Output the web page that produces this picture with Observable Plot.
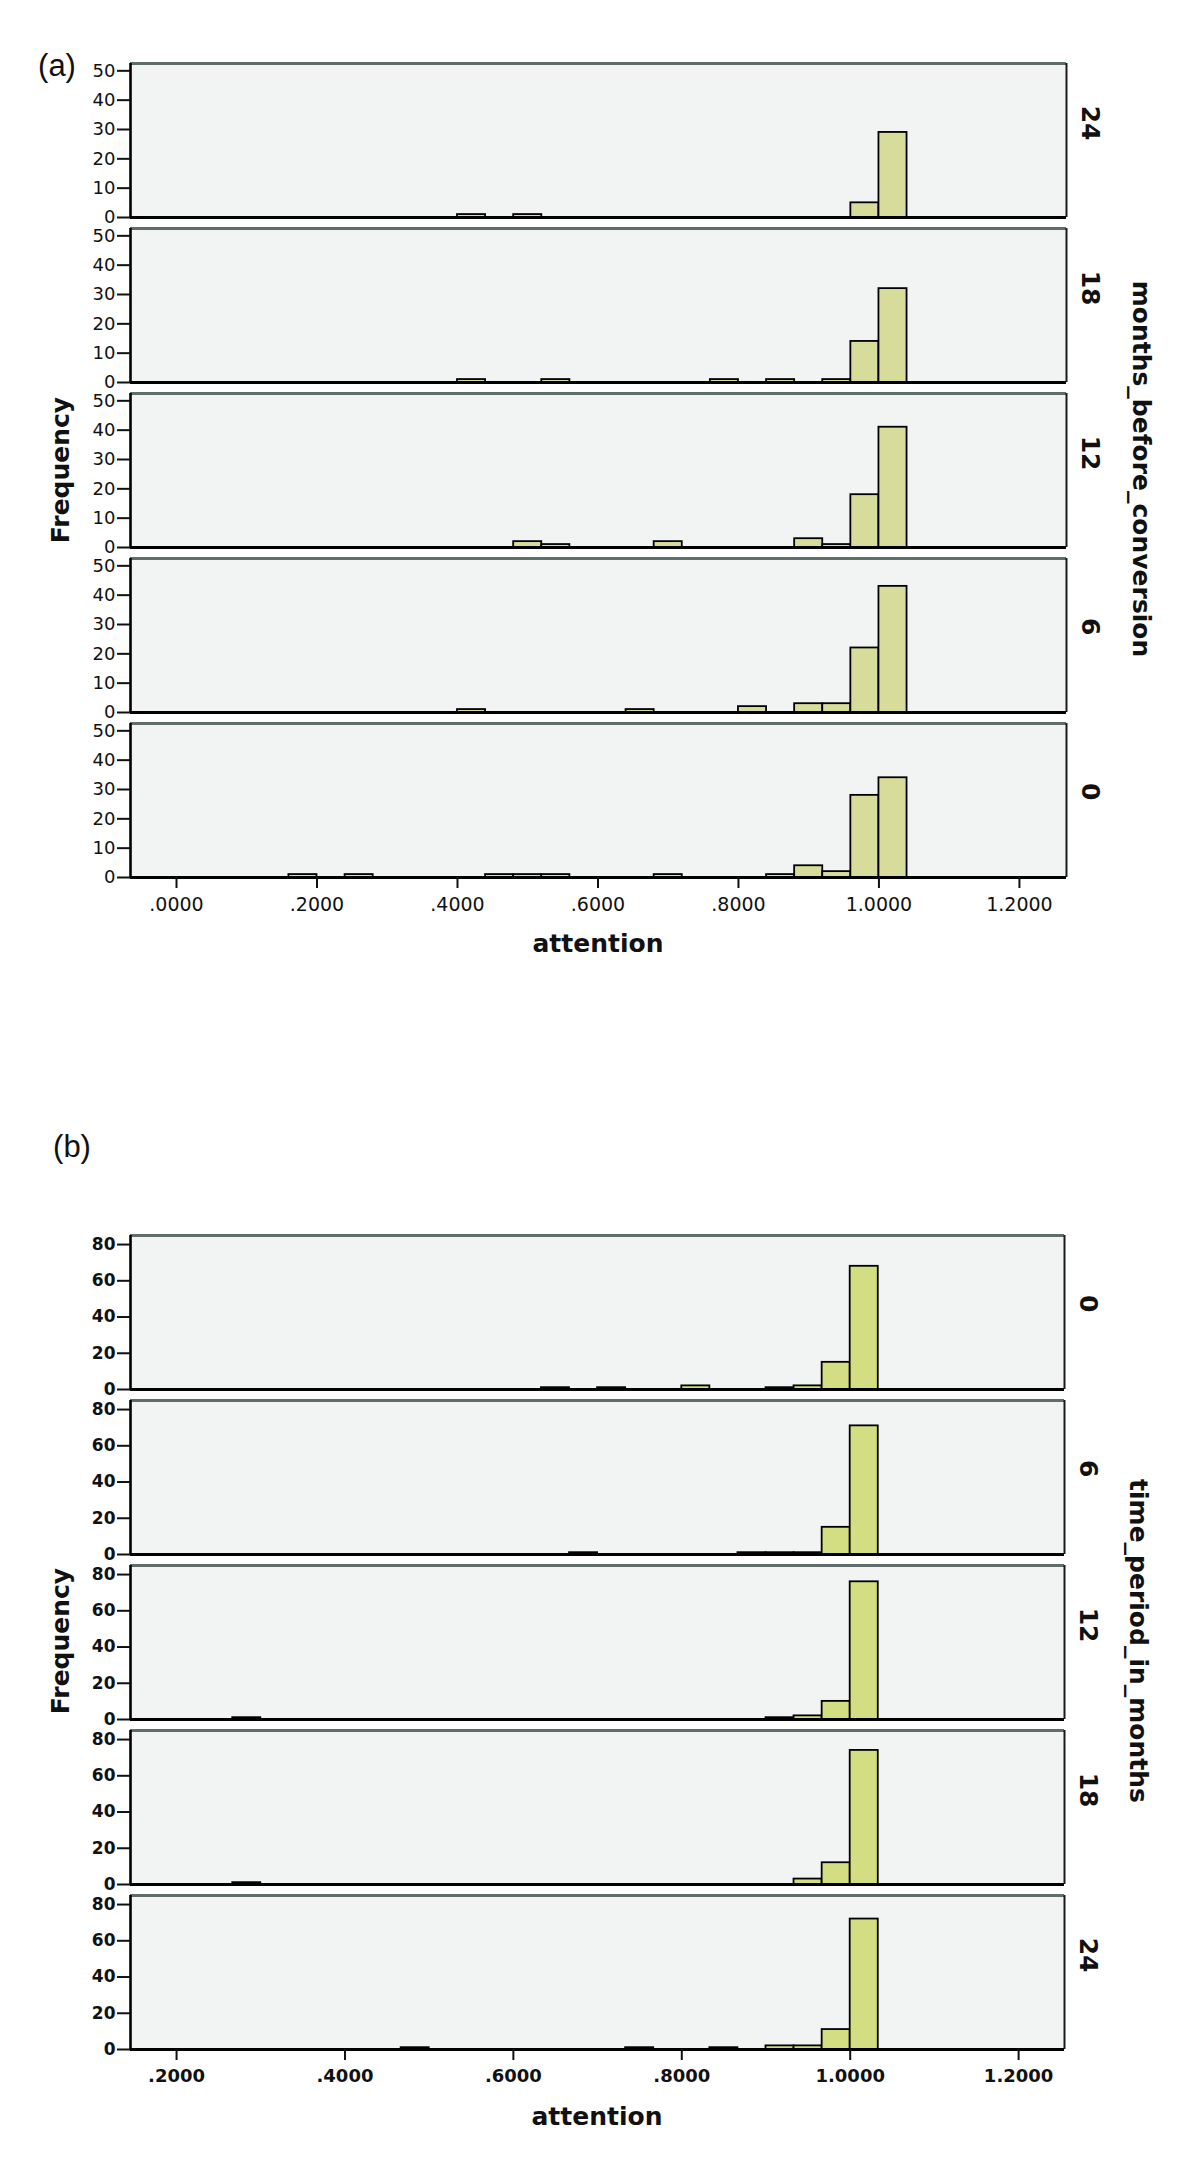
<!DOCTYPE html>
<html>
<head>
<meta charset="utf-8">
<script src="https://cdn.jsdelivr.net/npm/d3@7"></script>
<script src="https://cdn.jsdelivr.net/npm/@observablehq/plot@0.6"></script>
<style>
  body { margin: 0; background: #fff; }
  #wrap { position: relative; width: 1200px; height: 2175px; overflow: hidden; background: #fff; }
  .abs { position: absolute; white-space: nowrap; line-height: 1; }
  .plabel { font-family: "Liberation Sans", Arial, sans-serif; font-size: 31px; color: #111; transform: translate(-50%, -50%); }
  .title { font-family: "DejaVu Sans", sans-serif; font-weight: bold; font-size: 25px; color: #111; }
  .c { transform: translate(-50%, -50%); }
  .up { transform: translate(-50%, -50%) rotate(-90deg); }
  .down { transform: translate(-50%, -50%) rotate(90deg); }
</style>
</head>
<body>
<div id="wrap"></div>
<script>
// ---------- Panel (a): attention by months_before_conversion ----------
const aGroups = ["24", "18", "12", "6", "0"];
const aBinWidth = 0.04;
const aBins = [0.16, 0.20, 0.24, 0.28, 0.32, 0.36, 0.40, 0.44, 0.48, 0.52, 0.56,
               0.60, 0.64, 0.68, 0.72, 0.76, 0.80, 0.84, 0.88, 0.92, 0.96, 1.00];
const aCounts24 = [0,0,0,0,0,0,1,0,1,0,0,0,0,0,0,0,0,0,0,0,5,29];
const aCounts18 = [0,0,0,0,0,0,1,0,0,1,0,0,0,0,0,1,0,1,0,1,14,32];
const aCounts12 = [0,0,0,0,0,0,0,0,2,1,0,0,0,2,0,0,0,0,3,1,18,41];
const aCounts6  = [0,0,0,0,0,0,1,0,0,0,0,0,1,0,0,0,2,0,3,3,22,43];
const aCounts0  = [1,0,1,0,0,0,0,1,1,1,0,0,0,1,0,0,0,1,4,2,28,34];
const aXTicks = [0, 0.2, 0.4, 0.6, 0.8, 1.0, 1.2];
const aYTicks = [0, 10, 20, 30, 40, 50];

// ---------- Panel (b): attention by time_period_in_months ----------
const bGroups = ["0", "6", "12", "18", "24"];
const bBinWidth = 1 / 30;
const bBins = [0.2667, 0.3000, 0.3333, 0.3667, 0.4000, 0.4333, 0.4667, 0.5000, 0.5333,
               0.5667, 0.6000, 0.6333, 0.6667, 0.7000, 0.7333, 0.7667, 0.8000, 0.8333,
               0.8667, 0.9000, 0.9333, 0.9667, 1.0000];
const bCounts0  = [0,0,0,0,0,0,0,0,0,0,0,1,0,1,0,0,2,0,0,1,2,15,68];
const bCounts6  = [0,0,0,0,0,0,0,0,0,0,0,0,1,0,0,0,0,0,1,1,1,15,71];
const bCounts12 = [1,0,0,0,0,0,0,0,0,0,0,0,0,0,0,0,0,0,0,1,2,10,76];
const bCounts18 = [1,0,0,0,0,0,0,0,0,0,0,0,0,0,0,0,0,0,0,0,3,12,74];
const bCounts24 = [0,0,0,0,0,0,1,0,0,0,0,0,0,0,1,0,0,1,0,2,2,11,72];
const bXTicks = [0.2, 0.4, 0.6, 0.8, 1.0, 1.2];
const bYTicks = [0, 20, 40, 60, 80];

function buildRows(groups, bins, countLists, binW) {
  const rows = [];
  groups.forEach((g, gi) => {
    bins.forEach((b, i) => {
      const n = countLists[gi][i];
      if (n > 0) rows.push({g, x1: b, x2: b + binW, n});
    });
  });
  return rows;
}

const fmt = d => d.toFixed(4).replace(/^0/, "");

function histogram(o) {
  const rows = buildRows(o.groups, o.bins, o.counts, o.binW);
  return Plot.plot({
    width: 1200,
    height: o.height,
    marginLeft: 130,
    marginRight: o.marginRight,
    marginTop: o.marginTop,
    marginBottom: o.marginBottom,
    style: {fontFamily: o.font, fontSize: "18px", color: "#111", background: "transparent", overflow: "visible"},
    x: {domain: o.xDomain},
    y: {domain: o.yDomain},
    fy: {domain: o.groups, paddingInner: o.fyPad, paddingOuter: 0, axis: null, label: null},
    marks: [
      Plot.frame({fill: "#f2f4f4", stroke: null}),
      Plot.rect(rows, {fy: "g", x1: "x1", x2: "x2", y1: 0, y2: "n",
                       fill: o.fill, stroke: "#000", strokeWidth: 1.8}),
      Plot.ruleY([o.yDomain[1]], {stroke: "#5f6e6b", strokeWidth: 2.8}),
      Plot.ruleX([o.xDomain[1]], {stroke: "#1a1a1a", strokeWidth: 2}),
      Plot.ruleX([o.xDomain[0]], {stroke: "#000", strokeWidth: 2.6}),
      Plot.ruleY([0], {stroke: "#000", strokeWidth: 2.8}),
      Plot.axisY({ticks: o.yTicks, tickSize: 13, tickPadding: 2, label: null,
                  strokeWidth: 2, fontSize: o.tickFontSize, fontWeight: o.tickWeight}),
      Plot.axisX({ticks: o.xTicks, tickFormat: fmt, tickSize: 11, tickPadding: 9, label: null,
                  strokeWidth: 2, fontSize: o.tickFontSize + 1, fontWeight: o.tickWeight}),
      Plot.text(o.groups, {fy: d => d, text: d => d, frameAnchor: "right", dx: 23,
                           rotate: 90, fontSize: 25, fontWeight: "bold"})
    ]
  });
}

const wrap = document.getElementById("wrap");

const plotA = histogram({
  groups: aGroups, bins: aBins, counts: [aCounts24, aCounts18, aCounts12, aCounts6, aCounts0],
  binW: aBinWidth, xDomain: [-0.0655, 1.267], yDomain: [0, 52.5],
  xTicks: aXTicks, yTicks: aYTicks, fill: "#d8dc9a",
  height: 1000, marginTop: 63, marginBottom: 123, marginRight: 134, fyPad: 0.067,
  font: "DejaVu Sans", tickFontSize: 18, tickWeight: "normal"
});
plotA.style.position = "absolute";
plotA.style.left = "0px";
plotA.style.top = "0px";
wrap.appendChild(plotA);

const plotB = histogram({
  groups: bGroups, bins: bBins, counts: [bCounts0, bCounts6, bCounts12, bCounts18, bCounts24],
  binW: bBinWidth, xDomain: [0.1453, 1.2545], yDomain: [0, 85],
  xTicks: bXTicks, yTicks: bYTicks, fill: "#d3de82",
  height: 1175, marginTop: 234, marginBottom: 126, marginRight: 136, fyPad: 0.067,
  font: "DejaVu Sans", tickFontSize: 17, tickWeight: "bold"
});
plotB.style.position = "absolute";
plotB.style.left = "0px";
plotB.style.top = "1000px";
wrap.appendChild(plotB);

// ---------- text labels ----------
function label(text, x, y, cls) {
  const d = document.createElement("div");
  d.className = "abs " + cls;
  d.style.left = x + "px";
  d.style.top = y + "px";
  d.textContent = text;
  wrap.appendChild(d);
}
label("(a)", 57, 65, "plabel");
label("(b)", 72, 1146, "plabel");
label("Frequency", 60, 470, "title up");
label("months_before_conversion", 1141, 469, "title down");
label("attention", 598, 943, "title c");
label("Frequency", 60, 1641, "title up");
label("time_period_in_months", 1138, 1641, "title down");
label("attention", 597, 2116, "title c");
</script>
</body>
</html>
